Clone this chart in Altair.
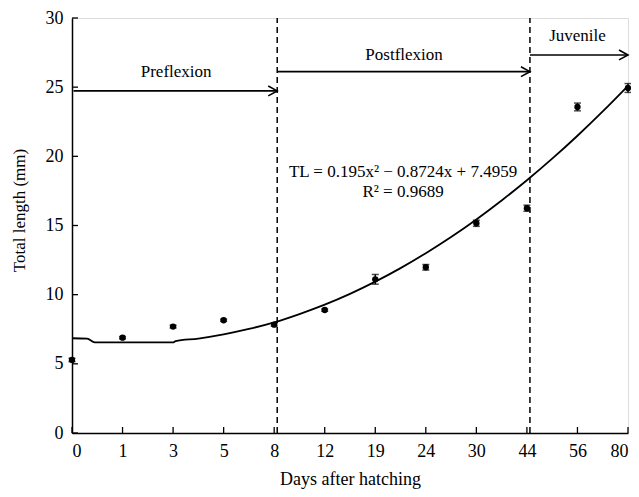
import json
import altair as alt
import pandas as pd

# ---- data ----
days = ["0", "1", "3", "5", "8", "12", "19", "24", "30", "44", "56", "80"]
mean_tl = [5.28, 6.89, 7.69, 8.15, 7.83, 8.89, 11.11, 11.98, 15.16, 16.25, 23.57, 24.94]
err_tl = [0.12, 0.08, 0.1, 0.08, 0.1, 0.08, 0.35, 0.2, 0.22, 0.22, 0.28, 0.32]

# fitted curve as drawn (x = category index)
curve_idx = [0, 0.3, 0.45, 2.0, 2.05, 2.5, 3, 3.5, 4, 4.5, 5, 5.5, 6, 6.5, 7, 7.5, 8, 8.5, 9, 9.5, 10, 10.5, 11]
curve_tl = [6.85, 6.82, 6.55, 6.55, 6.65, 6.83, 7.13, 7.52, 8.0, 8.6, 9.28, 10.06, 10.94, 11.92, 13.0, 14.17,
            15.44, 16.81, 18.27, 19.83, 21.49, 23.25, 25.1]

# stage boundaries (category index) and stage arrows
boundary_idx = [4.06, 9.06]
stage_names = ["Preflexion", "Postflexion", "Juvenile"]
stage_start = [0.03, 4.06, 9.06]
stage_end = [4.06, 9.06, 11.0]
stage_arrow_y = [24.73, 26.12, 27.33]
stage_label_x = [2.06, 6.57, 10.0]
stage_label_y = [26.1, 27.33, 28.7]

eq_lines = ["TL = 0.195x\u00b2 \u2212 0.8724x + 7.4959", "R\u00b2 = 0.9689"]
eq_x = [6.55, 6.55]
eq_y = [18.87, 17.43]

y_ticks = [0, 5, 10, 15, 20, 25, 30]

FONT = "Liberation Serif"

pts = pd.DataFrame({"idx": list(range(len(days))), "tl": mean_tl, "err": err_tl})
pts["lo"] = pts["tl"] - pts["err"]
pts["hi"] = pts["tl"] + pts["err"]
curve = pd.DataFrame({"idx": curve_idx, "tl": curve_tl})
bounds = pd.DataFrame({"idx": boundary_idx, "y0": [0, 0], "y1": [30, 30]})
stages = pd.DataFrame({"name": stage_names, "x0": stage_start, "x1": stage_end, "y": stage_arrow_y,
                       "lx": stage_label_x, "ly": stage_label_y})
eq = pd.DataFrame({"t": eq_lines, "x": eq_x, "y": eq_y})
xt = pd.DataFrame({"idx": list(range(len(days)))})
yt = pd.DataFrame({"v": y_ticks})

label_expr = json.dumps(days) + "[datum.value]"

xscale = alt.Scale(domain=[0, 11], nice=False, zero=False)
yscale = alt.Scale(domain=[0, 30], nice=False)

X = alt.X("idx:Q", scale=xscale, title="Days after hatching",
          axis=alt.Axis(values=list(range(len(days))), labelExpr=label_expr, ticks=False, grid=False,
                        labelFont=FONT, labelFontSize=18, labelColor="black", labelPadding=9,
                        titleFont=FONT, titleFontSize=18, titleFontWeight="normal", titleColor="black",
                        titleY=51, titleBaseline="alphabetic",
                        domainColor="black", domainWidth=1.5))
Y = alt.Y("tl:Q", scale=yscale, title="Total length (mm)",
          axis=alt.Axis(values=y_ticks, ticks=False, grid=False,
                        labelFont=FONT, labelFontSize=18, labelColor="black", labelPadding=9,
                        titleFont=FONT, titleFontSize=17, titleFontWeight="normal", titleColor="black",
                        titleX=-53, titleY=192, titleAngle=270, titleBaseline="middle", titleAlign="center",
                        domainColor="black", domainWidth=1.5))

base_pts = alt.Chart(pts)
points = base_pts.mark_circle(size=40, color="black", opacity=1).encode(x=X, y=Y)
ebar = base_pts.mark_rule(color="black", strokeWidth=1.5).encode(
    x=alt.X("idx:Q", scale=xscale), y=alt.Y("lo:Q", scale=yscale), y2="hi:Q")
cap_lo = base_pts.mark_tick(color="black", thickness=1.5, size=7, orient="horizontal").encode(
    x=alt.X("idx:Q", scale=xscale), y=alt.Y("lo:Q", scale=yscale))
cap_hi = base_pts.mark_tick(color="black", thickness=1.5, size=7, orient="horizontal").encode(
    x=alt.X("idx:Q", scale=xscale), y=alt.Y("hi:Q", scale=yscale))

line = alt.Chart(curve).mark_line(color="black", strokeWidth=1.8, interpolate="monotone").encode(
    x=alt.X("idx:Q", scale=xscale), y=alt.Y("tl:Q", scale=yscale))

dashed = alt.Chart(bounds).mark_rule(color="black", strokeWidth=1.5, strokeDash=[6, 4]).encode(
    x=alt.X("idx:Q", scale=xscale), y=alt.Y("y0:Q", scale=yscale), y2="y1:Q")

arrows = alt.Chart(stages).mark_rule(color="black", strokeWidth=1.6).encode(
    x=alt.X("x0:Q", scale=xscale), x2="x1:Q", y=alt.Y("y:Q", scale=yscale))
heads = alt.Chart(stages).mark_point(shape="M-1,-0.55L0,0L-1,0.55", size=324, filled=False,
                                     color="black", strokeWidth=1.6, opacity=1).encode(
    x=alt.X("x1:Q", scale=xscale), y=alt.Y("y:Q", scale=yscale))
stage_text = alt.Chart(stages).mark_text(font=FONT, fontSize=17, color="black", baseline="middle").encode(
    x=alt.X("lx:Q", scale=xscale), y=alt.Y("ly:Q", scale=yscale), text="name:N")

eq_text = alt.Chart(eq).mark_text(font=FONT, fontSize=17, color="black", baseline="middle").encode(
    x=alt.X("x:Q", scale=xscale), y=alt.Y("y:Q", scale=yscale), text="t:N")

xticks = alt.Chart(xt).mark_rule(color="black", strokeWidth=1.3).encode(
    x=alt.X("idx:Q", scale=xscale), y=alt.value(415), y2=alt.value(409))
yticks = alt.Chart(yt).mark_rule(color="black", strokeWidth=1.3).encode(
    y=alt.Y("v:Q", scale=yscale), x=alt.value(0), x2=alt.value(6))

chart = alt.layer(
    points, dashed, line, ebar, cap_lo, cap_hi, arrows, heads, stage_text, eq_text, xticks, yticks
).properties(
    width=556, height=415,
    autosize=alt.AutoSizeParams(type="none"),
    padding={"left": 64, "top": 10, "right": 3, "bottom": 56},
).configure_view(stroke="black", strokeWidth=1.5).configure(background="white")

chart.save("out.html", embed_options={"renderer": "svg", "actions": False})
